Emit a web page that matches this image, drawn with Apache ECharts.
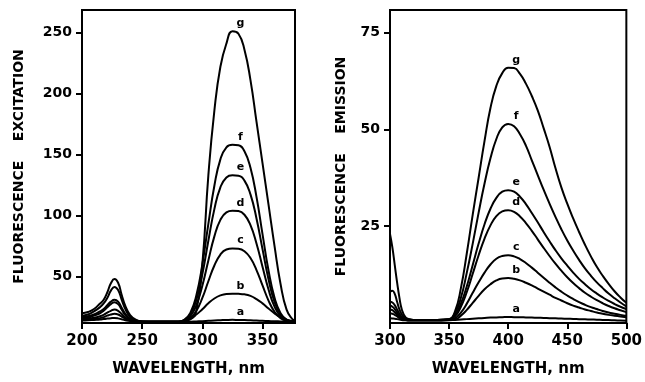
<!DOCTYPE html>
<html><head><meta charset="utf-8">
<script src="https://cdn.jsdelivr.net/npm/echarts@6/dist/echarts.min.js"></script>
<style>html,body{margin:0;padding:0;background:#fff}#c{width:645px;height:382px}</style>
</head><body><div id="c"></div>
<script>
// ---------- DATA ----------
const curveNames = ['a','b','c','d','e','f','g'];

// Left panel: fluorescence excitation
const excWavelength = [200,205,210,215,218,221,224,227,230,233,236,240,245,250,260,270,280,285,290,295,300,305,310,315,320,325,330,335,340,345,350,355,360,365,370,375,377];
const excA = [14,14.2,14.5,14.8,15.2,15.6,15.9,16.1,15.8,15,14.3,13.6,13.1,13,13,13,13,13,13.1,13.3,13.5,13.8,14.1,14.3,14.5,14.6,14.5,14.4,14.2,14,13.8,13.6,13.4,13.3,13.2,13.1,13];
const excB = [14.5,14.8,15.3,16,16.8,18,19,19.5,19,17.3,15.5,14,13.2,13,13,13,13,14,15.7,18.9,23.3,28.1,32.1,34.6,35.8,36,35.9,35.5,34.2,31.6,28.1,23.9,19.9,16.8,14.7,13.6,13.5];
const excC = [15,15.5,16.3,17.5,18.7,20.5,22,23,22,19.3,16.5,14.3,13.3,13,13,13,13,13.7,16,21.9,32.5,46.2,59.1,68.1,72.2,73,72.8,70.8,65.2,55.4,42.8,30.4,21.2,15.9,13.8,13.2,13.1];
const excD = [16,16.5,18,20,22,24.8,27.5,29,27.5,23,18.5,15,13.5,13.1,13,13,13,14.1,17.6,26.5,42.6,63.3,83,96.5,102.7,104,103.7,100.7,92.2,77.2,58.1,39.4,25.4,17.5,14.2,13.2,13.1];
const excE = [17,17.5,19,21.5,23.5,26.5,29.5,31,29.5,24.5,19.5,15.5,13.7,13.1,13,13,13,14.4,19.1,30.8,52,79.4,105.3,123.2,131.3,133,132.6,128.7,117.4,97.7,72.5,47.8,29.3,18.9,14.6,13.3,13.1];
const excF = [18,19,21.5,25,28,32.5,38.5,41.5,39,31,23.5,17,14,13.2,13,13,13,14.7,20.3,34.5,60.1,93.2,124.5,146.1,156,158,157.6,152.8,139.2,115.4,84.9,55,32.7,20.1,14.9,13.4,13.1];
const excG = [20,21,23.5,28,31,37,44.5,48,45,35,26,18.5,14.5,13.3,13,13,13,14,15,22,60,133,186,222,241,251,249,236,211,177,143,109,75,44,23,15,14];

// Right panel: fluorescence emission
const emWavelength = [300,302,304,306,308,310,313,316,320,330,340,350,355,360,365,370,375,380,385,390,395,400,405,410,415,420,425,430,435,440,445,450,455,460,465,470,475,480,485,490,495,500];
const emA = [1.2,1.15,1.1,1,0.9,0.8,0.7,0.6,0.6,0.6,0.6,0.7,0.8,0.9,1,1.1,1.2,1.3,1.4,1.45,1.5,1.55,1.5,1.5,1.45,1.4,1.35,1.3,1.25,1.2,1.15,1.1,1.05,1,0.95,0.9,0.85,0.8,0.75,0.7,0.65,0.6];
const emB = [2.5,2.4,2.1,1.7,1.3,1,0.8,0.8,0.8,0.8,0.8,0.8,0.9,1.9,3.4,5.2,7,8.7,10,11,11.5,11.6,11.4,11,10.4,9.7,8.9,8.1,7.3,6.5,5.8,5.1,4.5,4,3.5,3.1,2.7,2.4,2.1,1.9,1.7,1.5];
const emC = [3.5,3.3,2.8,2.2,1.6,1.2,0.9,0.8,0.8,0.8,0.8,0.8,1.2,2.7,5,7.8,10.5,13,15.1,16.6,17.3,17.5,17.2,16.5,15.5,14.3,13,11.7,10.4,9.2,8.1,7.1,6.2,5.4,4.7,4.1,3.6,3.1,2.7,2.4,2.1,1.8];
const emD = [4.5,4.2,3.6,2.7,1.9,1.3,0.9,0.8,0.8,0.8,0.8,0.9,1.7,4.2,8,12.7,17.5,21.8,25.2,27.6,28.8,29.1,28.7,27.5,25.8,23.8,21.6,19.4,17.3,15.3,13.5,11.8,10.3,9,7.8,6.8,5.9,5.1,4.4,3.8,3.3,2.8];
const emE = [5.5,5.3,4.6,3.5,2.4,1.6,1,0.9,0.8,0.8,0.8,0.9,2,5,9.5,15,20.5,25.5,29.5,32.3,33.9,34.3,33.9,32.6,30.7,28.4,26,23.5,21.1,18.8,16.7,14.8,13,11.4,10,8.7,7.6,6.6,5.7,4.9,4.2,3.6];
const emF = [8,8.3,7.5,5.5,3.5,2.2,1.2,0.9,0.8,0.8,0.8,1,2.5,6.5,13,20.5,28.5,36,42.5,47.5,50.5,51.4,50.8,48.7,45.8,42,38.2,34.4,30.8,27.4,24.2,21.3,18.7,16.3,14.1,12.2,10.5,9,7.6,6.4,5.3,4.3];
const emG = [23,19.5,15,10.5,6.5,3.5,1.5,1,0.8,0.8,0.8,1,3,9,18,28,37.5,47,55.5,61.2,64.5,65.9,65.8,64.3,61.8,58.6,54.9,50.3,45.5,40,35,30.8,27,23.5,20.2,17.2,14.5,12.2,10.1,8.2,6.6,5.2];

// Axis ticks and texts
const excXTicks = [200,250,300,350];
const excYTicks = [50,100,150,200,250];
const emXTicks = [300,350,400,450,500];
const emYTicks = [25,50,75];
const xAxisTitle = 'WAVELENGTH, nm';
const excYTitle = 'FLUORESCENCE    EXCITATION';
const emYTitle = 'FLUORESCENCE    EMISSION';

// ---------- CHART ----------
const FONT = 'DejaVu Sans';
const chart = echarts.init(document.getElementById('c'), null, {renderer:'canvas'});

function mkSeries(name, xs, ys, idx, lo, offset) {
  let mi = -1;
  for (let i = 0; i < xs.length; i++) {
    if (xs[i] >= lo && (mi < 0 || ys[i] > ys[mi])) mi = i;
  }
  return {
    type:'line', name: name, xAxisIndex: idx, yAxisIndex: idx,
    data: xs.map((x,i)=>[x, ys[i]]),
    smooth: 0.5, symbol:'none', silent:true, animation:false,
    lineStyle:{color:'#000', width:2},
    markPoint:{
      symbol:'circle', symbolSize:1, silent:true, animation:false,
      itemStyle:{color:'rgba(0,0,0,0)'},
      label:{show:true, formatter:name, offset:offset, color:'#000', fontSize:11, fontWeight:'bold', fontFamily:FONT},
      data:[{coord:[xs[mi], ys[mi]]}]
    }
  };
}

const excSets = [excA,excB,excC,excD,excE,excF,excG];
const emSets = [emA,emB,emC,emD,emE,emF,emG];
const series = [];
curveNames.forEach((n,i)=>series.push(mkSeries(n, excWavelength, excSets[i], 0, 280, [8,-8])));
curveNames.forEach((n,i)=>series.push(mkSeries(n, emWavelength, emSets[i], 1, 350, [8,-8])));

const lineStyle = {color:'#000', width:2};
const labStyle = (fs)=>({color:'#000', fontSize:fs, fontWeight:'bold', fontFamily:FONT});

function xAx(idx, min, max, ticks, gap) {
  return {type:'value', gridIndex:idx, min:min, max:max,
    axisLine:{show:true, lineStyle:lineStyle},
    axisTick:{show:true, customValues:ticks, length:6, lineStyle:lineStyle},
    axisLabel:Object.assign({customValues:ticks, margin:11}, labStyle(15)),
    splitLine:{show:false},
    name:xAxisTitle, nameLocation:'middle', nameGap:gap,
    nameTextStyle:labStyle(15)};
}
function yAx(idx, min, max, ticks, title, gap) {
  return {type:'value', gridIndex:idx, min:min, max:max,
    axisLine:{show:true, lineStyle:lineStyle},
    axisTick:{show:true, customValues:ticks, length:6, lineStyle:lineStyle},
    axisLabel:Object.assign({customValues:ticks, margin:10}, labStyle(14)),
    splitLine:{show:false},
    name:title, nameLocation:'middle', nameGap:gap, nameRotate:90,
    nameTextStyle:labStyle(14)};
}

chart.setOption({
  animation:false,
  backgroundColor:'#fff',
  grid:[
    {left:82, top:10, width:213, height:318, show:true, borderColor:'#000', borderWidth:2},
    {left:390, top:10, width:237, height:319, show:true, borderColor:'#000', borderWidth:2}
  ],
  xAxis:[ xAx(0, 200, 377, excXTicks, 39), xAx(1, 300, 500, emXTicks, 39) ],
  yAxis:[ yAx(0, 12, 268.5, excYTicks, excYTitle, 56), yAx(1, 0, 80.8, emYTicks, emYTitle, 42) ],
  series:series
});
</script></body></html>
